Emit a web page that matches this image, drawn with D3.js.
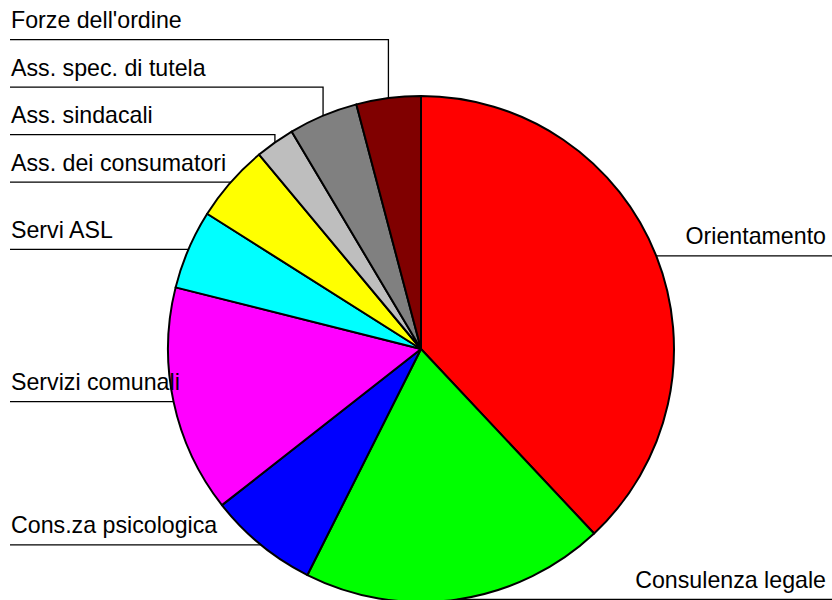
<!DOCTYPE html>
<html>
<head>
<meta charset="utf-8">
<script src="https://cdn.jsdelivr.net/npm/d3@7/dist/d3.min.js"></script>
<style>
  html, body { margin: 0; padding: 0; background: #fff; }
  svg { display: block; }
  text { font-family: "Liberation Sans", Arial, Helvetica, sans-serif; }
</style>
</head>
<body>
<svg id="chart" width="832" height="600"></svg>
<script>
// ---- data (clockwise from 12 o'clock) ----
const categories = ["Orientamento", "Consulenza legale", "Cons.za psicologica", "Servizi comunali",
                    "Servi ASL", "Ass. dei consumatori", "Ass. sindacali", "Ass. spec. di tutela", "Forze dell'ordine"];
const values = [38.0, 19.4, 7.0, 14.5, 5.06, 4.97, 2.51, 4.43, 4.11];
const palette = ["#ff0000", "#00ff00", "#0000ff", "#ff00ff", "#00ffff", "#ffff00", "#bebebe", "#808080", "#800000"];

// ---- layout ----
const W = 832, H = 600;
const cx = 421, cy = 349, R = 253;
const fontSize = 23.2;
const labelGap = 11.5;   // line below text baseline
const minSpacing = 47.5; // vertical spacing between stacked labels

const svg = d3.select("#chart");
const data = categories.map((c, i) => ({ cat: c, value: values[i], color: palette[i] }));

const pie = d3.pie().value(d => d.value).sort(null).startAngle(0).endAngle(2 * Math.PI);
const arcs = pie(data);
const arc = d3.arc().innerRadius(0).outerRadius(R);

const g = svg.append("g").attr("transform", `translate(${cx},${cy})`);
g.selectAll("path.slice")
  .data(arcs)
  .enter().append("path")
  .attr("class", "slice")
  .attr("d", arc)
  .attr("fill", d => d.data.color)
  .attr("stroke", "#000")
  .attr("stroke-width", 2)
  .attr("stroke-linejoin", "round");

// ---- labels ----
const labels = arcs.map(a => {
  const m = (a.startAngle + a.endAngle) / 2;
  const ax = cx + R * Math.sin(m);
  const ay = cy - R * Math.cos(m);
  return { cat: a.data.cat, ax, ay, side: ax < cx ? "left" : "right", ly: ay };
});

["left", "right"].forEach(side => {
  const list = labels.filter(l => l.side === side).sort((a, b) => b.ay - a.ay);
  let prev = Infinity;
  list.forEach(l => {
    l.ly = Math.min(l.ay, prev - minSpacing);
    prev = l.ly;
  });
});

const lg = svg.append("g");
labels.forEach(l => {
  const endX = l.side === "left" ? 10 : W;
  const pts = [[l.ax, l.ay]];
  if (l.ly < l.ay - 0.5) pts.push([l.ax, l.ly]);
  pts.push([endX, l.ly]);
  lg.append("path")
    .attr("d", d3.line()(pts))
    .attr("fill", "none")
    .attr("stroke", "#000")
    .attr("stroke-width", 1.3);
  lg.append("text")
    .attr("x", l.side === "left" ? 11 : W - 6)
    .attr("y", l.ly - labelGap)
    .attr("text-anchor", l.side === "left" ? "start" : "end")
    .attr("font-size", fontSize)
    .attr("fill", "#000")
    .text(l.cat);
});
</script>
</body>
</html>
